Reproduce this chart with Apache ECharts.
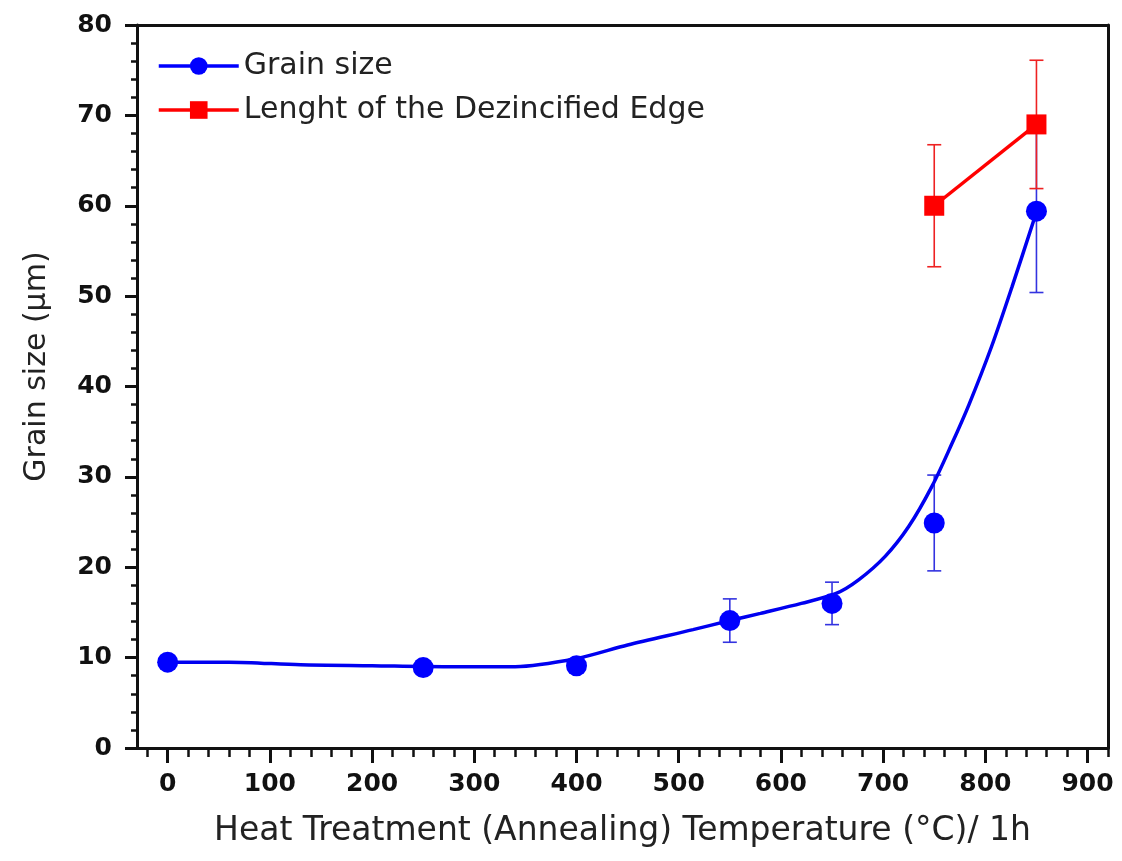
<!DOCTYPE html>
<html><head><meta charset="utf-8">
<script src="https://cdn.jsdelivr.net/npm/echarts@6/dist/echarts.min.js"></script>
<style>html,body{margin:0;padding:0;background:#fff}#c{width:1122px;height:861px}</style>
</head><body><div id="c"></div>
<script>
// ---- data ----
const temps = [0, 250, 400, 550, 650, 750, 850];
const grainSize = [9.5, 8.9, 9.1, 14.1, 16.0, 24.9, 59.4];
const grainErr = [0.4, 0.4, 0.4, 2.4, 2.35, 5.3, 9.0];
const edgeTemps = [750, 850];
const edgeLength = [60.0, 69.0];
const edgeErr = [6.75, 7.1];
// fitted curve
const curveX = [0, 60, 130, 200, 270, 340, 400, 450, 514, 550, 580, 620, 654, 676, 702, 725, 748, 767, 784, 806, 826, 850];
const curveY = [9.5, 9.5, 9.2, 9.1, 9.0, 9.0, 9.9, 11.4, 13.1, 14.1, 14.9, 16.0, 17.1, 18.6, 21.2, 24.5, 29.0, 33.6, 38.0, 44.4, 51.0, 59.3];
const xMajorTicks = [0, 100, 200, 300, 400, 500, 600, 700, 800, 900];
const xMinorTicks = [];
for (let v = -20; v <= 920; v += 20) xMinorTicks.push(v);
const seriesNames = ['Grain size', 'Lenght of the Dezincified Edge'];

const chart = echarts.init(document.getElementById('c'));
const zip = (a, b) => a.map((v, i) => [v, b[i]]);
const errData = (xs, ys, es) => xs.map((x, i) => [x, ys[i] - es[i], ys[i] + es[i]]);

function errRender(color) {
  return function (params, api) {
    const x = api.value(0), lo = api.value(1), hi = api.value(2);
    const a = api.coord([x, hi]), b = api.coord([x, lo]);
    const w = 7;
    const st = { stroke: color, lineWidth: 1.6 };
    return { type: 'group', children: [
      { type: 'line', shape: { x1: a[0], y1: a[1], x2: b[0], y2: b[1] }, style: st },
      { type: 'line', shape: { x1: a[0] - w, y1: a[1], x2: a[0] + w, y2: a[1] }, style: st },
      { type: 'line', shape: { x1: b[0] - w, y1: b[1], x2: b[0] + w, y2: b[1] }, style: st }
    ]};
  };
}

const tickFont = { fontFamily: 'DejaVu Sans', fontWeight: 'bold', fontSize: 25, color: '#111' };
const axisLineStyle = { color: '#111', width: 3 };

chart.setOption({
  animation: false,
  backgroundColor: '#fff',
  grid: { left: 137, right: 14, top: 25, bottom: 113, containLabel: false },
  legend: {
    orient: 'vertical', left: 152, top: 46, itemWidth: 80, itemHeight: 22, itemGap: 14,
    textStyle: { fontFamily: 'DejaVu Sans', fontSize: 30, color: '#222' },
    data: [
      { name: seriesNames[0], lineStyle: { width: 3.5, opacity: 1, color: '#0000ff' } },
      { name: seriesNames[1], lineStyle: { width: 3.5, opacity: 1, color: '#ff0000' } }
    ]
  },
  xAxis: [
    { type: 'value', min: -30, max: 920, position: 'bottom',
      axisLine: { show: true, onZero: false, lineStyle: axisLineStyle },
      axisTick: { show: true, inside: false, length: 15, customValues: xMajorTicks, lineStyle: { color: '#111', width: 3 } },
      axisLabel: { show: true, margin: 24, customValues: xMajorTicks, ...tickFont },
      splitLine: { show: false },
      name: 'Heat Treatment (Annealing) Temperature (°C)/ 1h', nameLocation: 'middle', nameGap: 67,
      nameTextStyle: { fontFamily: 'DejaVu Sans', fontSize: 33, color: '#222' } },
    { type: 'value', min: -30, max: 920, position: 'bottom',
      axisLine: { show: false, onZero: false },
      axisTick: { show: true, length: 9, customValues: xMinorTicks, lineStyle: { color: '#111', width: 2.5 } },
      axisLabel: { show: false }, splitLine: { show: false } },
    { type: 'value', min: -30, max: 920, position: 'top',
      axisLine: { show: true, onZero: false, lineStyle: axisLineStyle },
      axisTick: { show: false }, axisLabel: { show: false }, splitLine: { show: false } }
  ],
  yAxis: [
    { type: 'value', min: 0, max: 80, interval: 10, position: 'left',
      axisLine: { show: true, onZero: false, lineStyle: axisLineStyle },
      axisTick: { show: true, length: 12, lineStyle: { color: '#111', width: 3 } },
      minorTick: { show: true, splitNumber: 5, length: 6, lineStyle: { color: '#111', width: 2.5 } },
      axisLabel: { margin: 25, ...tickFont },
      splitLine: { show: false },
      name: 'Grain size (μm)', nameLocation: 'middle', nameGap: 85,
      nameTextStyle: { fontFamily: 'DejaVu Sans', fontSize: 30, color: '#222', padding: [0, 0, 0, 40] } },
    { type: 'value', min: 0, max: 80, interval: 10, position: 'right',
      axisLine: { show: true, onZero: false, lineStyle: axisLineStyle },
      axisTick: { show: false }, axisLabel: { show: false }, splitLine: { show: false } }
  ],
  series: [
    { name: 'fit', type: 'line', data: zip(curveX, curveY), smooth: 0.3,
      showSymbol: false, symbol: 'none', lineStyle: { color: '#0000f0', width: 3.5 }, z: 3, silent: true },
    { name: 'gerr', type: 'custom', renderItem: errRender('#3333e0'), data: errData(temps, grainSize, grainErr), z: 2, silent: true },
    { name: 'eerr', type: 'custom', renderItem: errRender('#ee2222'), data: errData(edgeTemps, edgeLength, edgeErr), z: 2, silent: true },
    { name: seriesNames[0], type: 'line', data: zip(temps, grainSize), symbol: 'circle', symbolSize: 21,
      itemStyle: { color: '#0000ff' }, lineStyle: { width: 0, opacity: 0, color: '#0000ff' }, z: 5 },
    { name: seriesNames[1], type: 'line', data: zip(edgeTemps, edgeLength), symbol: 'rect', symbolSize: 20,
      itemStyle: { color: '#ff0000' }, lineStyle: { width: 3.5, color: '#ff0000' }, z: 5 }
  ]
});
</script></body></html>
